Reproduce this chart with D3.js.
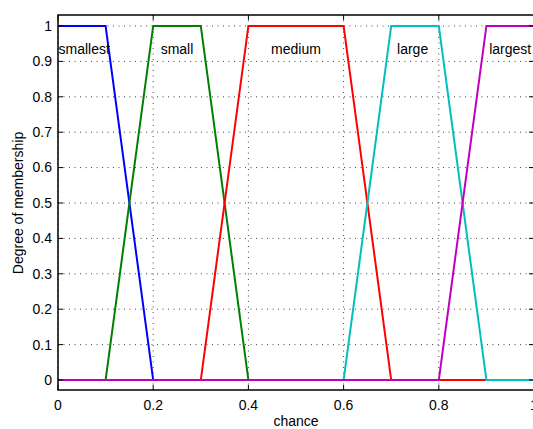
<!DOCTYPE html>
<html><head><meta charset="utf-8">
<script src="https://cdn.jsdelivr.net/npm/d3@7"></script>
<style>body{margin:0;background:#fff}svg{display:block}text{font-family:"Liberation Sans",Arial,sans-serif}</style>
</head><body><svg id="c" width="533" height="429"></svg>
<script>
const xTicks = [0, 0.2, 0.4, 0.6, 0.8, 1];
const yTicks = [0, 0.1, 0.2, 0.3, 0.4, 0.5, 0.6, 0.7, 0.8, 0.9, 1];
const names = ["smallest", "small", "medium", "large", "largest"];
const colors = ["#0000ff", "#008000", "#ff0000", "#00bfbf", "#bf00bf"];
const smallest = [[0,1],[0.1,1],[0.2,0],[1,0]];
const small = [[0,0],[0.1,0],[0.2,1],[0.3,1],[0.4,0],[1,0]];
const medium = [[0,0],[0.3,0],[0.4,1],[0.6,1],[0.7,0],[1,0]];
const large = [[0,0],[0.6,0],[0.7,1],[0.8,1],[0.9,0],[1,0]];
const largest = [[0,0],[0.8,0],[0.9,1],[1,1]];
const labelX = [0.055, 0.25, 0.5, 0.745, 0.95];
const labelY = 0.935;
const series = [smallest, small, medium, large, largest];

const svg = d3.select("#c");
const L = 58, R = 534, T = 15, B = 390;
const x = d3.scaleLinear().domain([0, 1]).range([L, R]);
const y = d3.scaleLinear().domain([-0.0282, 1.031]).range([B, T]);

const g = svg.append("g");
// grid
g.selectAll(".gx").data(xTicks).enter().append("line")
  .attr("x1", d => x(d)).attr("x2", d => x(d)).attr("y1", T).attr("y2", B)
  .attr("stroke", "#444").attr("stroke-width", 1).attr("stroke-dasharray", "1,4.5");
g.selectAll(".gy").data(yTicks).enter().append("line")
  .attr("x1", L).attr("x2", R).attr("y1", d => y(d)).attr("y2", d => y(d))
  .attr("stroke", "#444").attr("stroke-width", 1).attr("stroke-dasharray", "1,4.5");

// lines
const line = d3.line().x(d => x(d[0])).y(d => y(d[1]));
series.forEach((s, i) => {
  g.append("path").attr("d", line(s)).attr("fill", "none")
    .attr("stroke", colors[i]).attr("stroke-width", 2);
});

// labels
names.forEach((n, i) => {
  g.append("text").attr("x", x(labelX[i])).attr("y", y(labelY)).attr("dy", "0.35em")
    .attr("text-anchor", "middle").attr("font-size", 14).attr("fill", "#000").text(n);
});

// axes frame
const ax = svg.append("g").attr("stroke", "#000").attr("stroke-width", 1.5).attr("fill", "none");
ax.append("rect").attr("x", L).attr("y", T).attr("width", R - L).attr("height", B - T);

// ticks (inward)
const tk = svg.append("g").attr("stroke", "#000").attr("stroke-width", 1);
xTicks.forEach(d => {
  tk.append("line").attr("x1", x(d)).attr("x2", x(d)).attr("y1", B).attr("y2", B - 5);
  tk.append("line").attr("x1", x(d)).attr("x2", x(d)).attr("y1", T).attr("y2", T + 5);
});
yTicks.forEach(d => {
  tk.append("line").attr("x1", L).attr("x2", L + 5).attr("y1", y(d)).attr("y2", y(d));
  tk.append("line").attr("x1", R).attr("x2", R - 5).attr("y1", y(d)).attr("y2", y(d));
});

const fmt = d => d === 0 ? "0" : d === 1 ? "1" : String(d);
svg.selectAll(".xl").data(xTicks).enter().append("text")
  .attr("x", d => x(d)).attr("y", 405).attr("dy", "0.35em").attr("text-anchor", "middle")
  .attr("font-size", 14).text(fmt);
svg.selectAll(".yl").data(yTicks).enter().append("text")
  .attr("x", 52).attr("y", d => y(d)).attr("dy", "0.35em").attr("text-anchor", "end")
  .attr("font-size", 14).text(fmt);

svg.append("text").attr("x", 296).attr("y", 421).attr("dy", "0.35em").attr("text-anchor", "middle")
  .attr("font-size", 14).text("chance");
svg.append("text").attr("transform", "translate(18,203) rotate(-90)").attr("dy", "0.35em")
  .attr("text-anchor", "middle").attr("font-size", 14).text("Degree of membership");
</script></body></html>
